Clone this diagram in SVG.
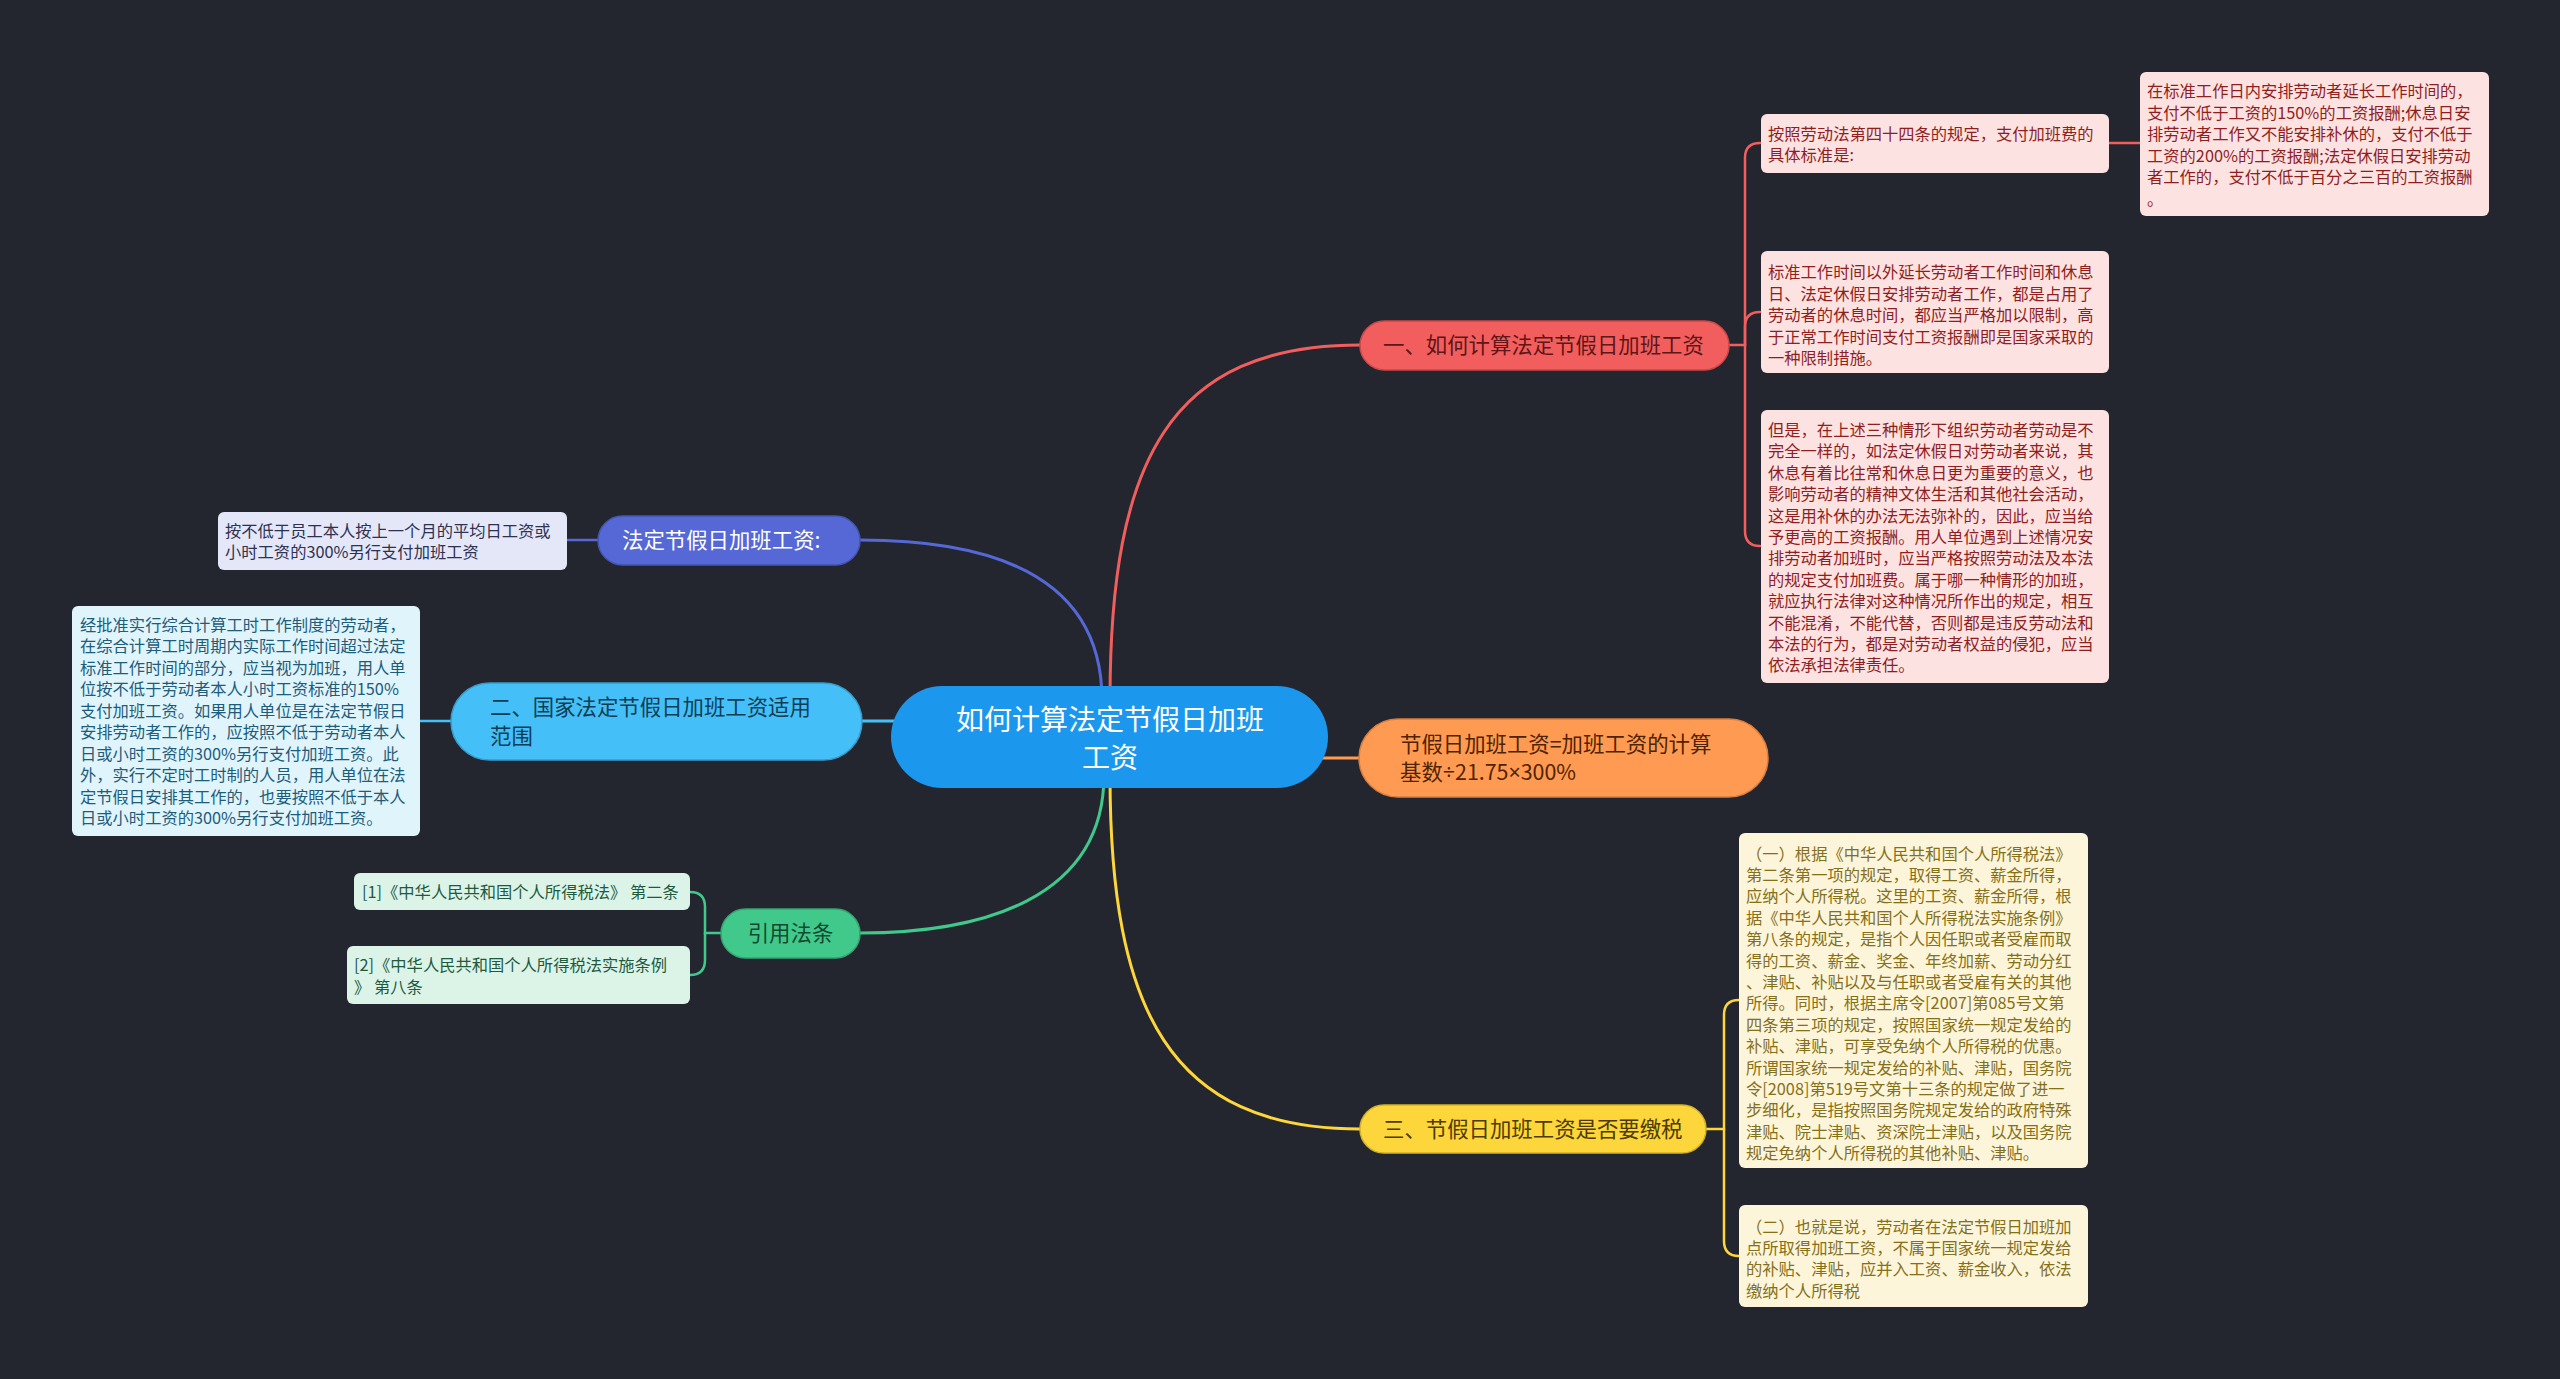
<svg xmlns="http://www.w3.org/2000/svg" width="2560" height="1379" viewBox="0 0 2560 1379">
<style>
text{font-family:"Noto Sans CJK SC","Noto Sans",sans-serif;}
.leaf{font-size:16.3px;}
.mid{font-size:21.4px;}
.lat{font-family:"Noto Sans",sans-serif;}
.conn{fill:none;stroke-width:3;stroke-linecap:round;}
.br{fill:none;stroke-width:2.5;stroke-linecap:round;}
</style>
<rect width="2560" height="1379" fill="#23262f"/>
<g id="connectors">
<path class="conn" stroke="#f25e5e" d="M1110,700 C1110,460 1170,345 1360,345"/>
<path class="conn" stroke="#5568d6" d="M860,540 C1000,540 1102,580 1102,700"/>
<path class="conn" stroke="#45bff7" d="M860,721 H900"/>
<path class="conn" stroke="#ff9a52" d="M1318,758 H1360"/>
<path class="conn" stroke="#40c98b" d="M1104,775 C1104,900 980,933 860,933"/>
<path class="conn" stroke="#fcd63a" d="M1110,775 C1110,1010 1170,1129 1360,1129"/>
<path class="br" stroke="#f25e5e" d="M1729,345 H1745 V158 Q1745,143 1760,143"/>
<path class="br" stroke="#f25e5e" d="M1745,345 V327 Q1745,312 1760,312"/>
<path class="br" stroke="#f25e5e" d="M1745,345 V531 Q1745,546 1760,546"/>
<path class="br" stroke="#f25e5e" d="M2109,143 H2140"/>
<path class="br" stroke="#fcd63a" d="M1706,1129 H1724 V1015 Q1724,1000 1739,1000"/>
<path class="br" stroke="#fcd63a" d="M1724,1129 V1241 Q1724,1256 1739,1256"/>
<path class="br" stroke="#5568d6" d="M598,540 H567"/>
<path class="br" stroke="#45bff7" d="M451,721 H420"/>
<path class="br" stroke="#40c98b" d="M721,933 H705 V907 Q705,892 690,892"/>
<path class="br" stroke="#40c98b" d="M705,933 V960 Q705,975 690,975"/>
</g>
<g id="root">
<rect x="891" y="686" width="437" height="102" rx="51" fill="#1c97ee"/>
<text font-size="28" fill="#ffffff" text-anchor="middle"><tspan x="1110" y="730">如何计算法定节假日加班</tspan><tspan x="1110" y="768">工资</tspan></text>
</g>
<g id="n1">
<rect x="1360" y="321" width="369" height="49" rx="24.5" fill="#f25e5e" stroke="#c94848" stroke-width="1.5"/>
<text class="mid" fill="#5e1616" x="1383" y="353">一、如何计算法定节假日加班工资</text>
</g>
<g id="n1a">
<rect x="1761" y="114" width="348" height="59" rx="6" fill="#fde2e2"/>
<text class="leaf" fill="#8f1f1f"><tspan x="1768" y="139.5">按照劳动法第四十四条的规定，支付加班费的</tspan><tspan x="1768" y="161">具体标准是:</tspan></text>
</g>
<g id="n1a1">
<rect x="2140" y="72" width="349" height="144" rx="6" fill="#fde2e2"/>
<text class="leaf" fill="#8f1f1f"><tspan x="2147" y="97">在标准工作日内安排劳动者延长工作时间的，</tspan><tspan x="2147" y="118.5">支付不低于工资的150%的工资报酬;休息日安</tspan><tspan x="2147" y="140">排劳动者工作又不能安排补休的，支付不低于</tspan><tspan x="2147" y="161.5">工资的200%的工资报酬;法定休假日安排劳动</tspan><tspan x="2147" y="183">者工作的，支付不低于百分之三百的工资报酬</tspan><tspan x="2147" y="204.5">。</tspan></text>
</g>
<g id="n1b">
<rect x="1761" y="251" width="348" height="122" rx="6" fill="#fde2e2"/>
<text class="leaf" fill="#8f1f1f"><tspan x="1768" y="278">标准工作时间以外延长劳动者工作时间和休息</tspan><tspan x="1768" y="299.5">日、法定休假日安排劳动者工作，都是占用了</tspan><tspan x="1768" y="321">劳动者的休息时间，都应当严格加以限制，高</tspan><tspan x="1768" y="342.5">于正常工作时间支付工资报酬即是国家采取的</tspan><tspan x="1768" y="364">一种限制措施。</tspan></text>
</g>
<g id="n1c">
<rect x="1761" y="410" width="348" height="273" rx="6" fill="#fde2e2"/>
<text class="leaf" fill="#8f1f1f"><tspan x="1768" y="436">但是，在上述三种情形下组织劳动者劳动是不</tspan><tspan x="1768" y="457.4">完全一样的，如法定休假日对劳动者来说，其</tspan><tspan x="1768" y="478.8">休息有着比往常和休息日更为重要的意义，也</tspan><tspan x="1768" y="500.2">影响劳动者的精神文体生活和其他社会活动，</tspan><tspan x="1768" y="521.6">这是用补休的办法无法弥补的，因此，应当给</tspan><tspan x="1768" y="543">予更高的工资报酬。用人单位遇到上述情况安</tspan><tspan x="1768" y="564.4">排劳动者加班时，应当严格按照劳动法及本法</tspan><tspan x="1768" y="585.8">的规定支付加班费。属于哪一种情形的加班，</tspan><tspan x="1768" y="607.2">就应执行法律对这种情况所作出的规定，相互</tspan><tspan x="1768" y="628.6">不能混淆，不能代替，否则都是违反劳动法和</tspan><tspan x="1768" y="650">本法的行为，都是对劳动者权益的侵犯，应当</tspan><tspan x="1768" y="671.4">依法承担法律责任。</tspan></text>
</g>
<g id="n2">
<rect x="1359" y="719" width="409" height="78" rx="39" fill="#ff9a52" stroke="#d97f40" stroke-width="1.5"/>
<text class="mid" fill="#4f2300"><tspan x="1400" y="751.5">节假日加班工资=加班工资的计算</tspan><tspan x="1400" y="780">基数<tspan class="lat">÷</tspan>21.75<tspan class="lat">×</tspan>300%</tspan></text>
</g>
<g id="n3">
<rect x="1360" y="1105" width="346" height="48" rx="24" fill="#fcd63a" stroke="#d4b22c" stroke-width="1.5"/>
<text class="mid" fill="#4d3b00" x="1383" y="1136.5">三、节假日加班工资是否要缴税</text>
</g>
<g id="n3a">
<rect x="1739" y="833" width="349" height="335" rx="6" fill="#fdf5d9"/>
<text class="leaf" fill="#85701a"><tspan x="1746" y="859.5">（一）根据《中华人民共和国个人所得税法》</tspan><tspan x="1746" y="880.9">第二条第一项的规定，取得工资、薪金所得，</tspan><tspan x="1746" y="902.3">应纳个人所得税。这里的工资、薪金所得，根</tspan><tspan x="1746" y="923.7">据《中华人民共和国个人所得税法实施条例》</tspan><tspan x="1746" y="945.1">第八条的规定，是指个人因任职或者受雇而取</tspan><tspan x="1746" y="966.5">得的工资、薪金、奖金、年终加薪、劳动分红</tspan><tspan x="1746" y="987.9">、津贴、补贴以及与任职或者受雇有关的其他</tspan><tspan x="1746" y="1009.3">所得。同时，根据主席令[2007]第085号文第</tspan><tspan x="1746" y="1030.7">四条第三项的规定，按照国家统一规定发给的</tspan><tspan x="1746" y="1052.1">补贴、津贴，可享受免纳个人所得税的优惠。</tspan><tspan x="1746" y="1073.5">所谓国家统一规定发给的补贴、津贴，国务院</tspan><tspan x="1746" y="1094.9">令[2008]第519号文第十三条的规定做了进一</tspan><tspan x="1746" y="1116.3">步细化，是指按照国务院规定发给的政府特殊</tspan><tspan x="1746" y="1137.7">津贴、院士津贴、资深院士津贴，以及国务院</tspan><tspan x="1746" y="1159.1">规定免纳个人所得税的其他补贴、津贴。</tspan></text>
</g>
<g id="n3b">
<rect x="1739" y="1205" width="349" height="102" rx="6" fill="#fdf5d9"/>
<text class="leaf" fill="#85701a"><tspan x="1746" y="1232.5">（二）也就是说，劳动者在法定节假日加班加</tspan><tspan x="1746" y="1253.9">点所取得加班工资，不属于国家统一规定发给</tspan><tspan x="1746" y="1275.3">的补贴、津贴，应并入工资、薪金收入，依法</tspan><tspan x="1746" y="1296.7">缴纳个人所得税</tspan></text>
</g>
<g id="n4">
<rect x="598" y="516" width="262" height="49" rx="24.5" fill="#5568d6" stroke="#4455b0" stroke-width="1.5"/>
<text class="mid" fill="#ffffff" x="622" y="548">法定节假日加班工资:</text>
</g>
<g id="n4a">
<rect x="218" y="512" width="349" height="58" rx="6" fill="#e4e7f8"/>
<text class="leaf" fill="#2d3152"><tspan x="225" y="536.5">按不低于员工本人按上一个月的平均日工资或</tspan><tspan x="225" y="558">小时工资的300%另行支付加班工资</tspan></text>
</g>
<g id="n5">
<rect x="451" y="683" width="411" height="77" rx="38.5" fill="#45bff7" stroke="#389cc9" stroke-width="1.5"/>
<text class="mid" fill="#0e3d55"><tspan x="490" y="714.5">二、国家法定节假日加班工资适用</tspan><tspan x="490" y="744">范围</tspan></text>
</g>
<g id="n5a">
<rect x="72" y="606" width="348" height="230" rx="6" fill="#e0f4fc"/>
<text class="leaf" fill="#1d5c7a"><tspan x="80" y="630.5">经批准实行综合计算工时工作制度的劳动者，</tspan><tspan x="80" y="652">在综合计算工时周期内实际工作时间超过法定</tspan><tspan x="80" y="673.5">标准工作时间的部分，应当视为加班，用人单</tspan><tspan x="80" y="695">位按不低于劳动者本人小时工资标准的150%</tspan><tspan x="80" y="716.5">支付加班工资。如果用人单位是在法定节假日</tspan><tspan x="80" y="738">安排劳动者工作的，应按照不低于劳动者本人</tspan><tspan x="80" y="759.5">日或小时工资的300%另行支付加班工资。此</tspan><tspan x="80" y="781">外，实行不定时工时制的人员，用人单位在法</tspan><tspan x="80" y="802.5">定节假日安排其工作的，也要按照不低于本人</tspan><tspan x="80" y="824">日或小时工资的300%另行支付加班工资。</tspan></text>
</g>
<g id="n6">
<rect x="721" y="909" width="139" height="49" rx="24.5" fill="#40c98b" stroke="#34a572" stroke-width="1.5"/>
<text class="mid" fill="#13492f" x="790.5" y="941" text-anchor="middle">引用法条</text>
</g>
<g id="n6a">
<rect x="354" y="873" width="336" height="37" rx="6" fill="#dcf4e8"/>
<text class="leaf" fill="#1f5a3e" x="362" y="897.5">[1]《中华人民共和国个人所得税法》 第二条</text>
</g>
<g id="n6b">
<rect x="347" y="946" width="343" height="58" rx="6" fill="#dcf4e8"/>
<text class="leaf" fill="#1f5a3e"><tspan x="354" y="971">[2]《中华人民共和国个人所得税法实施条例</tspan><tspan x="354" y="992.5">》 第八条</tspan></text>
</g>
</svg>
